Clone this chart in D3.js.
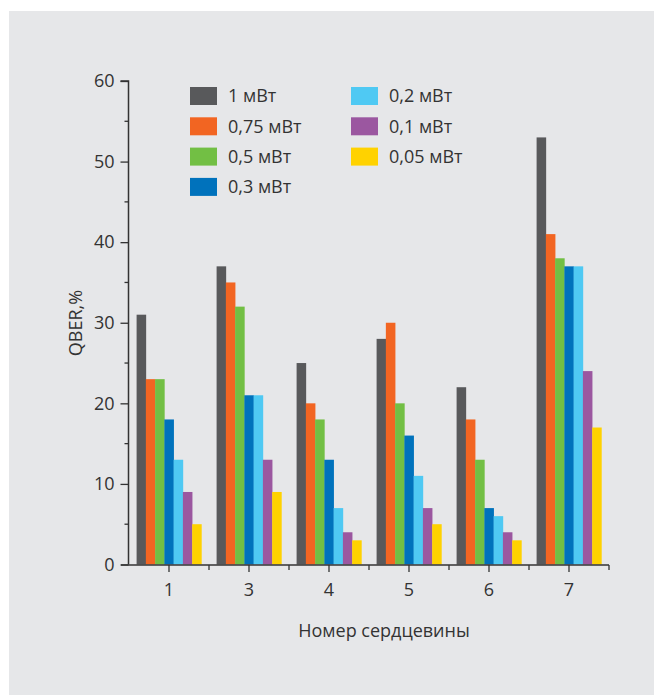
<!DOCTYPE html>
<html><head><meta charset="utf-8">
<script src="https://cdn.jsdelivr.net/npm/d3@7/dist/d3.min.js"></script>
<style>
html,body{margin:0;padding:0;background:#fff;}
svg{display:block;}
text{font-family:"Open Sans","Noto Sans",sans-serif;fill:#333;}
</style></head><body>
<script>
const categories = ["1","3","4","5","6","7"];
const seriesNames = ["1 мВт","0,75 мВт","0,5 мВт","0,3 мВт","0,2 мВт","0,1 мВт","0,05 мВт"];
const seriesColors = ["#58595b","#f26522","#72bf44","#0072bc","#4fc9f3","#9b57a0","#ffd200"];
const s1mW   = [31,37,25,28,22,53];
const s075mW = [23,35,20,30,18,41];
const s05mW  = [23,32,18,20,13,38];
const s03mW  = [18,21,13,16,7,37];
const s02mW  = [13,21,7,11,6,37];
const s01mW  = [9,13,4,7,4,24];
const s005mW = [5,9,3,5,3,17];
const seriesValues = [s1mW,s075mW,s05mW,s03mW,s02mW,s01mW,s005mW];
const yTicks = [0,10,20,30,40,50,60];
const yMinorTicks = [5,15,25,35,45,55];

const W=654,H=695;
const svg=d3.select("body").append("svg").attr("width",W).attr("height",H);
svg.append("rect").attr("x",9).attr("y",11).attr("width",W-9).attr("height",H-11).attr("fill","#e6e7e9");

const x0=129,x1=609,yTop=81,yBot=564.5;
const x=d3.scaleBand().domain(categories).range([x0,x1]).paddingInner(0.19).paddingOuter(0.095);
const xs=d3.scaleBand().domain(d3.range(seriesNames.length)).range([0,x.bandwidth()]);
const y=d3.scaleLinear().domain([0,60]).range([yBot,yTop]);

// bars
seriesValues.forEach((vals,si)=>{
  svg.append("g").selectAll("rect").data(vals).join("rect")
    .attr("x",(d,i)=>x(categories[i])+xs(si))
    .attr("width",xs.bandwidth()+0.3)
    .attr("y",d=>y(d)).attr("height",d=>y(0)-y(d))
    .attr("fill",seriesColors[si]);
});

const axisColor="#333";
// y axis
const ya=svg.append("g").attr("transform",`translate(${x0-0.5},0)`)
  .call(d3.axisLeft(y).tickValues(yTicks).tickSize(8).tickPadding(6));
ya.append("g").selectAll("line").data(yMinorTicks).join("line")
  .attr("x1",-4).attr("x2",0).attr("y1",d=>y(d)).attr("y2",d=>y(d)).attr("stroke",axisColor).attr("stroke-width",1.3);
ya.select(".domain").attr("d",`M-8,${yTop}H0V${yBot}`);
// x axis
const xa=svg.append("g").attr("transform",`translate(0,${yBot+0.5})`)
  .call(d3.axisBottom(x).tickSize(7).tickPadding(8));
const bounds=categories.map(c=>x(c)-x.step()*x.paddingInner()/2).slice(1).concat([x1]);
xa.append("g").selectAll("line").data(bounds).join("line")
  .attr("x1",d=>d).attr("x2",d=>d).attr("y1",0).attr("y2",5).attr("stroke",axisColor).attr("stroke-width",1.3);
xa.select(".domain").attr("d",`M${x0-8},0H${x1}`);
[ya,xa].forEach(a=>{
  a.selectAll(".domain").attr("stroke",axisColor).attr("stroke-width",1.5);
  a.selectAll(".tick line").attr("stroke",axisColor).attr("stroke-width",1.3);
  a.selectAll("text").attr("font-size",18).attr("fill","#333").attr("font-family","'Open Sans','Noto Sans',sans-serif");
});
xa.selectAll(".tick text").attr("dy","0.9em");

// axis titles
svg.append("text").attr("transform","translate(82,323) rotate(-90)")
  .attr("text-anchor","middle").attr("font-size",18).text("QBER,%");
svg.append("text").attr("x",384).attr("y",637)
  .attr("text-anchor","middle").attr("font-size",18).text("Номер сердцевины");

// legend
const leg=svg.append("g");
seriesNames.forEach((n,i)=>{
  const col=i<4?0:1, row=i<4?i:i-4;
  const lx=col===0?190:351, ly=87+row*30.3;
  leg.append("rect").attr("x",lx).attr("y",ly).attr("width",27).attr("height",18).attr("fill",seriesColors[i]);
  leg.append("text").attr("x",lx+38).attr("y",ly+9).attr("dy","0.35em").attr("font-size",18).text(n);
});
</script>
</body></html>
